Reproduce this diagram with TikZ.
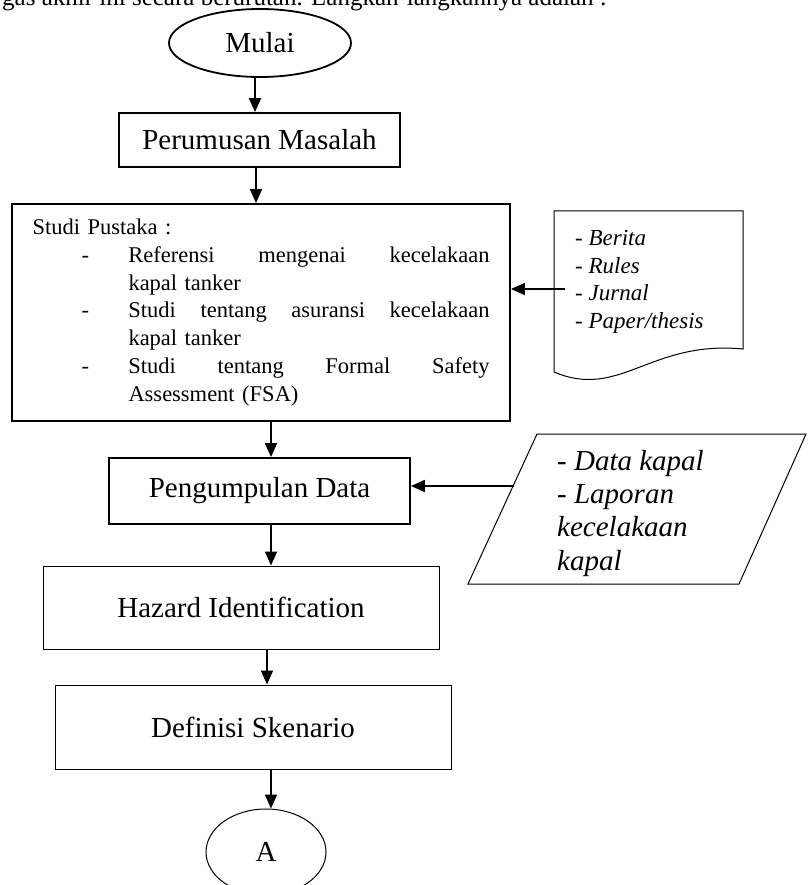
\documentclass[tikz,border=0pt]{standalone}
\usepackage{fontspec}
\setmainfont{Liberation Serif}
\usetikzlibrary{arrows.meta,positioning,calc,shapes.geometric}

\begin{document}
\begin{tikzpicture}[
  x=1pt, y=1pt,
  font=\fontsize{29}{34}\selectfont,
  procbox/.style={draw, line width=1.8pt, inner sep=0pt},
  lightbox/.style={draw, line width=1pt, inner sep=0pt},
  terminal/.style={ellipse, draw, inner sep=0pt},
  flow/.style={-{Triangle[length=14pt,width=12pt]}, line width=1.8pt},
  itemtext/.style={font=\fontsize{23}{27.7}\selectfont\itshape, align=left, inner sep=0pt},
  listtext/.style={font=\fontsize{22.5}{27.8}\selectfont, align=left, text width=457pt},
]
\useasboundingbox (0,0) rectangle (807,-885);
\clip (0,0) rectangle (807,-885);

% ---------------- page text above ----------------------------------
\node[anchor=base east, font=\fontsize{25}{30}\selectfont, inner sep=0pt] (intro) at (607,-6)
  {gas akhir ini secara berurutan. Langkah-langkahnya adalah :};

% ---------------- main column --------------------------------------
\node[terminal, line width=1.8pt, minimum width=182pt, minimum height=68pt] (mulai) at (260,-43) {Mulai};
\node[procbox, minimum width=281pt, minimum height=54pt] (rumus) at (259.5,-140) {Perumusan Masalah};
\node[procbox, listtext, minimum width=498pt, minimum height=217pt] (pustaka) at (261,-312.5)
  {Studi Pustaka :\\
   \hspace*{49pt}\makebox[47pt][l]{-}\makebox[361pt][l]{Referensi\hspace{\fill}mengenai\hspace{\fill}kecelakaan}\\
   \hspace*{96pt}kapal tanker\\
   \hspace*{49pt}\makebox[47pt][l]{-}\makebox[361pt][l]{Studi\hspace{\fill}tentang\hspace{\fill}asuransi\hspace{\fill}kecelakaan}\\
   \hspace*{96pt}kapal tanker\\
   \hspace*{49pt}\makebox[47pt][l]{-}\makebox[361pt][l]{Studi\hspace{\fill}tentang\hspace{\fill}Formal\hspace{\fill}Safety}\\
   \hspace*{96pt}Assessment (FSA)};
\node[procbox, minimum width=301pt, minimum height=66pt] (kumpul) at (259.5,-491) {Pengumpulan Data};
\node[lightbox, minimum width=396pt, minimum height=83pt] (hazard) at (241,-607.5) {Hazard Identification};
\node[lightbox, minimum width=396pt, minimum height=84pt] (skenario) at (253,-727) {Definisi Skenario};
\node[terminal, line width=1pt, minimum width=120pt, minimum height=86pt] (konektor) at (266,-852) {A};

\draw[flow] ([xshift=-5pt]mulai.south) -- ([xshift=-5pt]mulai.south |- rumus.north);
\draw[flow] ([xshift=-3.5pt]rumus.south) -- ([xshift=-3.5pt]rumus.south |- pustaka.north);
\draw[flow] ([xshift=10pt]pustaka.south) -- ([xshift=10pt]pustaka.south |- kumpul.north);
\draw[flow] ([xshift=11.5pt]kumpul.south) -- ([xshift=11.5pt]kumpul.south |- hazard.north);
\draw[flow] ([xshift=26pt]hazard.south) -- ([xshift=26pt]hazard.south |- skenario.north);
\draw[flow] ([xshift=18pt]skenario.south) -- ([xshift=18pt]skenario.south |- konektor.north);

% ---------------- sources (document) -------------------------------
\draw[line width=1pt] (554,-211) -- (743,-211) -- (743,-349)
  .. controls (650,-340) and (620,-400) .. (554,-372) -- cycle;
\node[itemtext, anchor=north west] (sumber) at (575,-230)
  {- Berita\\- Rules\\- Jurnal\\- Paper/thesis};
\coordinate (docjoin) at (565,-289);
\draw[flow] (docjoin) -- (docjoin -| pustaka.east);

% ---------------- data input (parallelogram) -----------------------
\draw[line width=1pt] (537,-434) -- (806,-434) -- (739,-584) -- (468,-584) -- cycle;
\node[itemtext, font=\fontsize{29}{33.3}\selectfont\itshape, anchor=north west] (datain) at (557,-450)
  {- Data kapal\\- Laporan\\kecelakaan\\kapal};
\coordinate (datajoin) at (514,-486);
\draw[flow] (datajoin) -- (datajoin -| kumpul.east);

\end{tikzpicture}
\end{document}
